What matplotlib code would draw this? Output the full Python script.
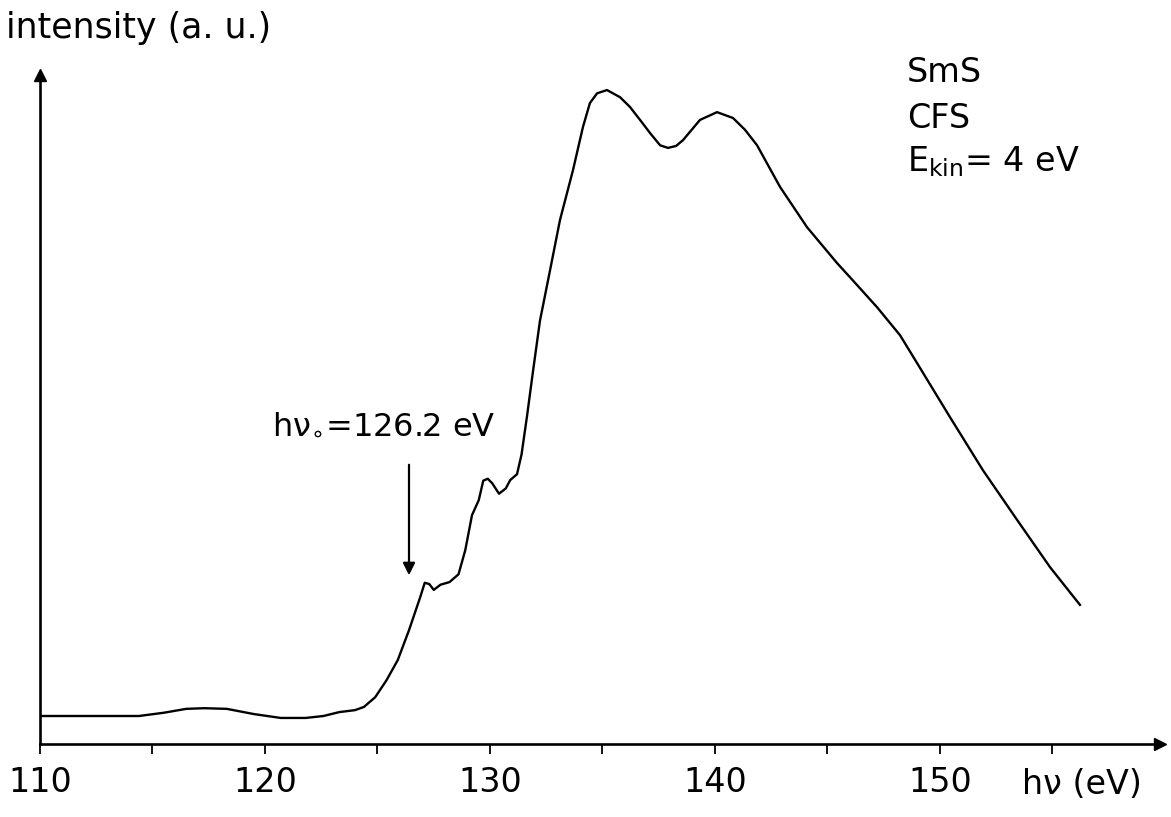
import matplotlib
matplotlib.use("Agg")
import matplotlib.pyplot as plt

# photon energy (eV) and intensity (a.u.)
energy = [110.0, 112.0, 114.4, 115.5, 116.5, 117.3, 118.3, 119.5, 120.7, 121.8,
          122.6, 123.3, 124.0, 124.4, 124.9, 125.4, 125.9, 126.4, 126.9, 127.1,
          127.3, 127.5, 127.8, 128.2, 128.6, 128.9, 129.2, 129.5, 129.7, 129.9,
          130.1, 130.4, 130.7, 130.9, 131.2, 131.4, 131.64, 131.91, 132.22, 132.67,
          133.11, 133.69, 134.13, 134.44, 134.76, 135.2, 135.78, 136.22, 136.67, 137.11,
          137.56, 137.91, 138.27, 138.58, 139.33, 140.09, 140.8, 141.33, 141.87, 142.89,
          144.09, 145.42, 146.0, 147.2, 148.22, 148.98, 150.44, 151.91, 153.42, 154.89,
          156.22]
intensity = [4.0, 4.0, 4.0, 4.5, 5.1, 5.2, 5.1, 4.3, 3.7, 3.7,
             4.0, 4.6, 4.9, 5.4, 6.9, 9.5, 12.6, 17.2, 22.3, 24.5,
             24.3, 23.4, 24.2, 24.6, 25.8, 29.5, 34.9, 37.2, 40.2, 40.5,
             39.8, 38.2, 39.0, 40.3, 41.2, 44.2, 50.0, 57.0, 64.8, 72.6,
             80.3, 88.0, 94.6, 98.3, 99.8, 100.3, 99.2, 97.7, 95.7, 93.7,
             91.8, 91.4, 91.7, 92.6, 95.7, 96.9, 96.0, 94.2, 91.8, 85.4,
             79.2, 73.7, 71.5, 66.9, 62.6, 58.3, 50.0, 41.8, 34.2, 26.9,
             21.1]

tick_pos = [110, 115, 120, 125, 130, 135, 140, 145, 150, 155]
tick_labels = ["110", "", "120", "", "130", "", "140", "", "150", ""]

plt.rcParams['font.family'] = ['DejaVu Sans']
plt.rcParams['mathtext.fontset'] = 'dejavusans'

W, H = 1171, 817
fig = plt.figure(figsize=(W / 100, H / 100), dpi=100)
ax = fig.add_axes([40 / W, (H - 744) / H, 1120 / W, (744 - 75) / H])
ax.set_xlim(110, 110 + 1120 / 22.5)
ax.set_ylim(0, (744 - 75) / 6.5)

ax.plot(energy, [v + 2 / 6.5 for v in intensity], color='black', lw=1.7)

for s in ['top', 'right']:
    ax.spines[s].set_visible(False)
for s in ['bottom', 'left']:
    ax.spines[s].set_linewidth(1.9)
ax.plot([1], [0], marker='>', color='black', ms=9, transform=ax.transAxes, clip_on=False)
ax.plot([0], [1], marker='^', color='black', ms=9, transform=ax.transAxes, clip_on=False)

ax.set_xticks(tick_pos)
ax.set_xticklabels(tick_labels)
ax.tick_params(axis='x', direction='out', length=7, width=1.3, pad=9, labelsize=24)
ax.set_yticks([])

fig.text(1082 / W, 1 - 784 / H, "hν (eV)", ha='center', va='center', fontsize=24)
fig.text(6 / W, 1 - 28 / H, "intensity (a. u.)", ha='left', va='center', fontsize=25)

fig.text(907 / W, 1 - 82 / H, "SmS", ha='left', va='baseline', fontsize=24)
fig.text(907 / W, 1 - 128 / H, "CFS", ha='left', va='baseline', fontsize=24)
fig.text(907 / W, 1 - 171 / H, r"E$_{\mathrm{kin}}$= 4 eV", ha='left', va='baseline', fontsize=24)

ax.annotate("", xy=(126.4, (744 - 578) / 6.5), xytext=(126.4, (744 - 462) / 6.5),
            arrowprops=dict(arrowstyle='-|>', color='black', lw=1.6, mutation_scale=18))
ax.text(125.3, (744 - 433) / 6.5, r"hν$_{\circ}$=126.2 eV", ha='center', va='baseline', fontsize=23)

fig.savefig("out.png", dpi=100)
